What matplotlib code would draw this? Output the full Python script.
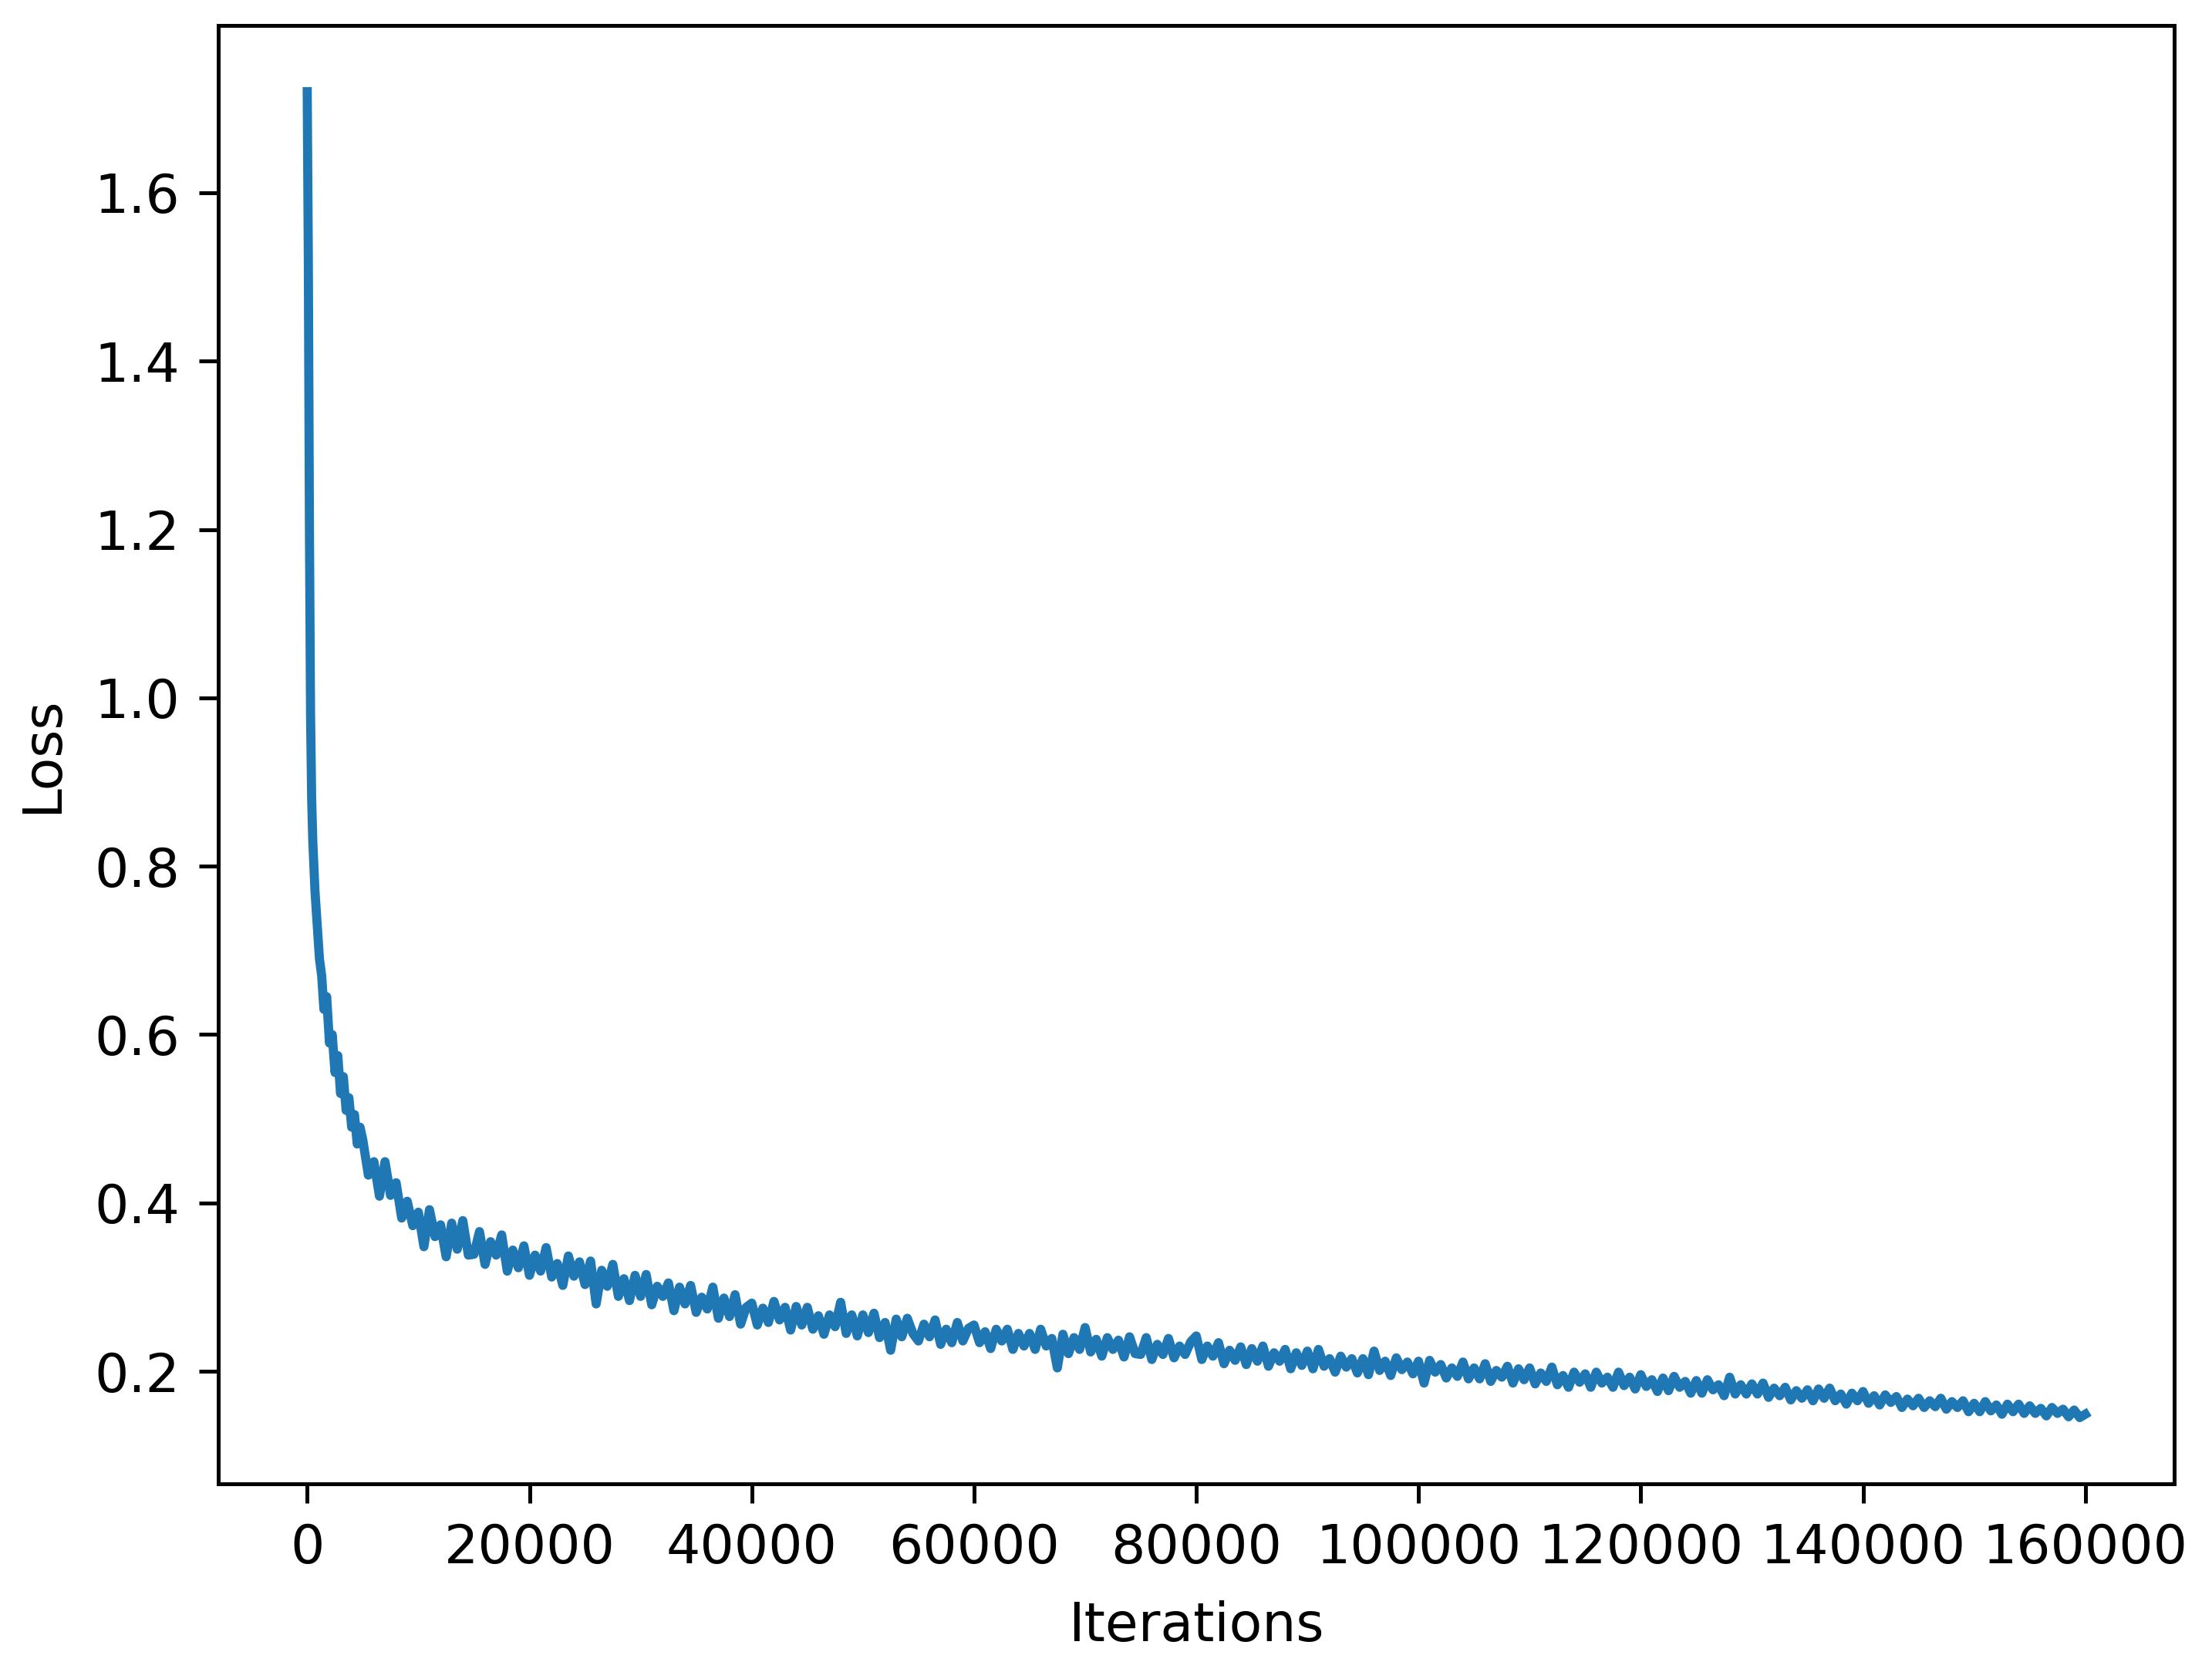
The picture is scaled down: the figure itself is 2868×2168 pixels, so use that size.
import numpy as np
import matplotlib
matplotlib.use("Agg")
import matplotlib.pyplot as plt

plt.rcParams['font.size'] = 11.2
plt.rcParams['xtick.major.size'] = 4
plt.rcParams['ytick.major.size'] = 4
plt.rcParams['xtick.major.pad'] = 4
plt.rcParams['ytick.major.pad'] = 4

# early part of training, sampled more densely
early_iters = [0, 100, 200, 300, 400, 500, 700, 900, 1100, 1300, 1500, 1750,
               2000, 2250, 2500, 2750, 3000, 3250, 3500, 3750, 4000, 4250, 4500, 4750]
early_loss = [1.72, 1.52, 1.20, 0.98, 0.88, 0.83, 0.77, 0.73, 0.69, 0.67, 0.63, 0.645,
              0.59, 0.60, 0.555, 0.575, 0.53, 0.55, 0.51, 0.525, 0.49, 0.505, 0.47, 0.49]

# rest of training, every 500 iterations from 5000 to 160000
main_iters = np.arange(5000, 160001, 500)
main_loss = [
    0.475, 0.433, 0.449, 0.408, 0.449, 0.409, 0.424, 0.382, 0.402, 0.373,
    0.389, 0.348, 0.392, 0.360, 0.374, 0.336, 0.376, 0.345, 0.379, 0.338,
    0.339, 0.366, 0.327, 0.354, 0.338, 0.362, 0.319, 0.344, 0.323, 0.349,
    0.314, 0.338, 0.319, 0.347, 0.312, 0.328, 0.302, 0.337, 0.313, 0.330,
    0.303, 0.331, 0.280, 0.320, 0.301, 0.327, 0.289, 0.310, 0.284, 0.314,
    0.289, 0.315, 0.279, 0.301, 0.289, 0.305, 0.272, 0.300, 0.280, 0.302,
    0.270, 0.288, 0.274, 0.300, 0.263, 0.287, 0.265, 0.291, 0.256, 0.276,
    0.281, 0.255, 0.275, 0.258, 0.283, 0.261, 0.276, 0.249, 0.277, 0.255,
    0.276, 0.250, 0.266, 0.244, 0.267, 0.253, 0.282, 0.245, 0.267, 0.242,
    0.267, 0.246, 0.269, 0.240, 0.258, 0.225, 0.262, 0.241, 0.263, 0.245,
    0.236, 0.256, 0.241, 0.261, 0.232, 0.250, 0.234, 0.258, 0.236, 0.251,
    0.255, 0.234, 0.247, 0.227, 0.250, 0.236, 0.250, 0.226, 0.245, 0.230,
    0.245, 0.226, 0.250, 0.230, 0.239, 0.204, 0.244, 0.221, 0.240, 0.226,
    0.252, 0.223, 0.238, 0.218, 0.240, 0.226, 0.237, 0.217, 0.241, 0.221,
    0.220, 0.240, 0.214, 0.232, 0.220, 0.239, 0.216, 0.230, 0.220, 0.235,
    0.242, 0.214, 0.230, 0.218, 0.234, 0.209, 0.225, 0.213, 0.229, 0.208,
    0.227, 0.212, 0.230, 0.206, 0.222, 0.212, 0.226, 0.203, 0.222, 0.207,
    0.224, 0.203, 0.226, 0.206, 0.215, 0.199, 0.218, 0.205, 0.215, 0.198,
    0.215, 0.196, 0.224, 0.201, 0.212, 0.195, 0.216, 0.202, 0.211, 0.197,
    0.212, 0.186, 0.213, 0.199, 0.208, 0.192, 0.204, 0.194, 0.211, 0.191,
    0.204, 0.191, 0.209, 0.188, 0.201, 0.193, 0.206, 0.186, 0.203, 0.190,
    0.204, 0.185, 0.198, 0.188, 0.205, 0.184, 0.195, 0.181, 0.199, 0.187,
    0.197, 0.181, 0.199, 0.186, 0.193, 0.181, 0.199, 0.183, 0.193, 0.179,
    0.196, 0.182, 0.190, 0.176, 0.192, 0.177, 0.194, 0.181, 0.188, 0.174,
    0.189, 0.174, 0.190, 0.178, 0.184, 0.171, 0.193, 0.173, 0.184, 0.173,
    0.185, 0.173, 0.186, 0.169, 0.180, 0.171, 0.181, 0.166, 0.177, 0.168,
    0.178, 0.165, 0.179, 0.168, 0.180, 0.165, 0.173, 0.161, 0.174, 0.165,
    0.176, 0.162, 0.171, 0.160, 0.172, 0.163, 0.170, 0.157, 0.167, 0.159,
    0.168, 0.157, 0.165, 0.158, 0.168, 0.155, 0.164, 0.157, 0.165, 0.152,
    0.162, 0.152, 0.164, 0.153, 0.160, 0.149, 0.161, 0.152, 0.161, 0.150,
    0.159, 0.150, 0.156, 0.147, 0.157, 0.150, 0.155, 0.146, 0.154, 0.145,
    0.149,
]

iters = np.concatenate([early_iters, main_iters])
loss = np.concatenate([early_loss, main_loss])

fig = plt.figure(figsize=(6.4, 4.838), dpi=448.125)
ax = fig.add_axes([0.0987, 0.1125, 0.8842, 0.8723])
ax.plot(iters, loss, linewidth=1.9)
ax.set_xlabel('Iterations', labelpad=5.5)
ax.set_ylabel('Loss', labelpad=5.5)

fig.savefig('out.png', dpi=448.125)
